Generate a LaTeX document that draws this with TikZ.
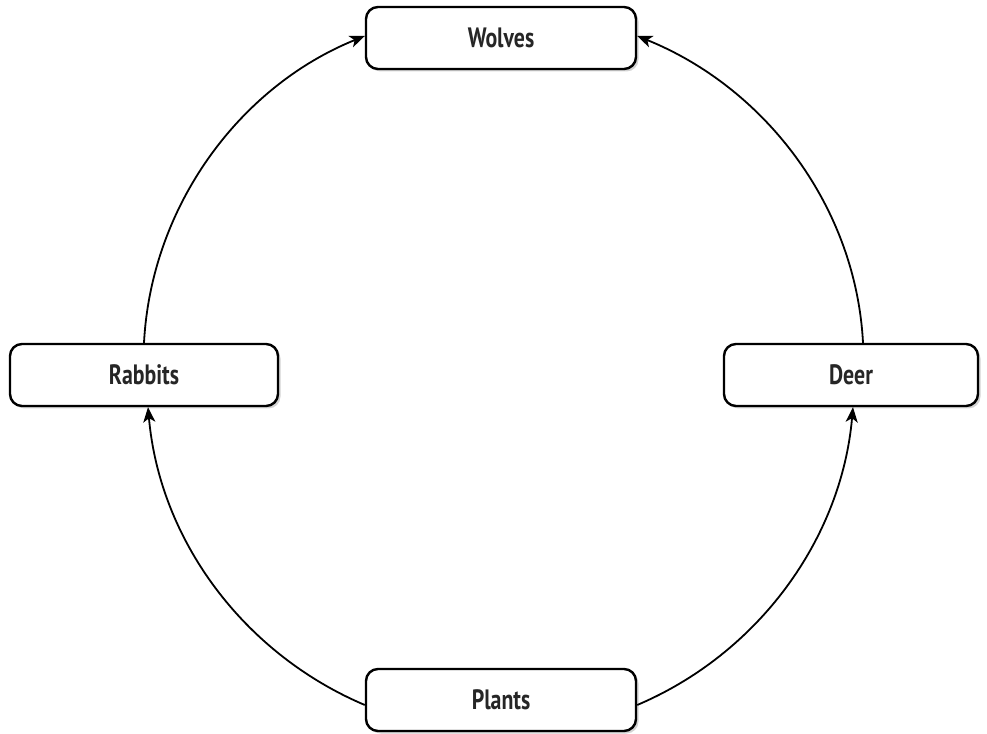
\documentclass[tikz,border=0pt]{standalone}
\usepackage{fontspec}
\setmainfont{PT Sans}[FakeStretch=0.78]
\usetikzlibrary{shadows,arrows.meta}

\begin{document}
\begin{tikzpicture}[
        x=1pt, y=1pt,
        animal/.style={
            draw=black,
            fill=white,
            line width=2.4pt,
            rounded corners=12pt,
            minimum width=270pt,
            minimum height=62pt,
            font=\fontsize{28}{30}\selectfont\bfseries,
            text=black!85,
            drop shadow={shadow xshift=2.5pt,shadow yshift=-2.5pt,opacity=0.35},
        },
        feeds/.style={
            line width=1.8pt,
            -{Stealth[length=15pt,width=12pt,inset=4pt]},
        }
    ]
    \useasboundingbox (0,0) rectangle (987,733);
    % the four boxes round the circle
    \node[animal] (wolves) at (501,695) {Wolves};
    \node[animal,minimum width=268pt] (rabbits) at (144,358) {Rabbits};
    \node[animal,minimum width=254pt] (deer) at (851,358) {Deer};
    \node[animal] (plants) at (501,33) {Plants};
    % who eats whom
    \draw[feeds] (rabbits.north) to[out=87,in=202,looseness=0.92] ([yshift=2pt]wolves.west);
    \draw[feeds] ([xshift=12pt]deer.north) to[out=93,in=-22,looseness=0.92] ([yshift=2pt]wolves.east);
    \draw[feeds] ([yshift=-5pt]plants.west) to[out=157,in=275,looseness=0.92] ([xshift=4pt]rabbits.south);
    \draw[feeds] ([yshift=-5pt]plants.east) to[out=23,in=265,looseness=0.92] ([xshift=2pt]deer.south);
\end{tikzpicture}
\end{document}
